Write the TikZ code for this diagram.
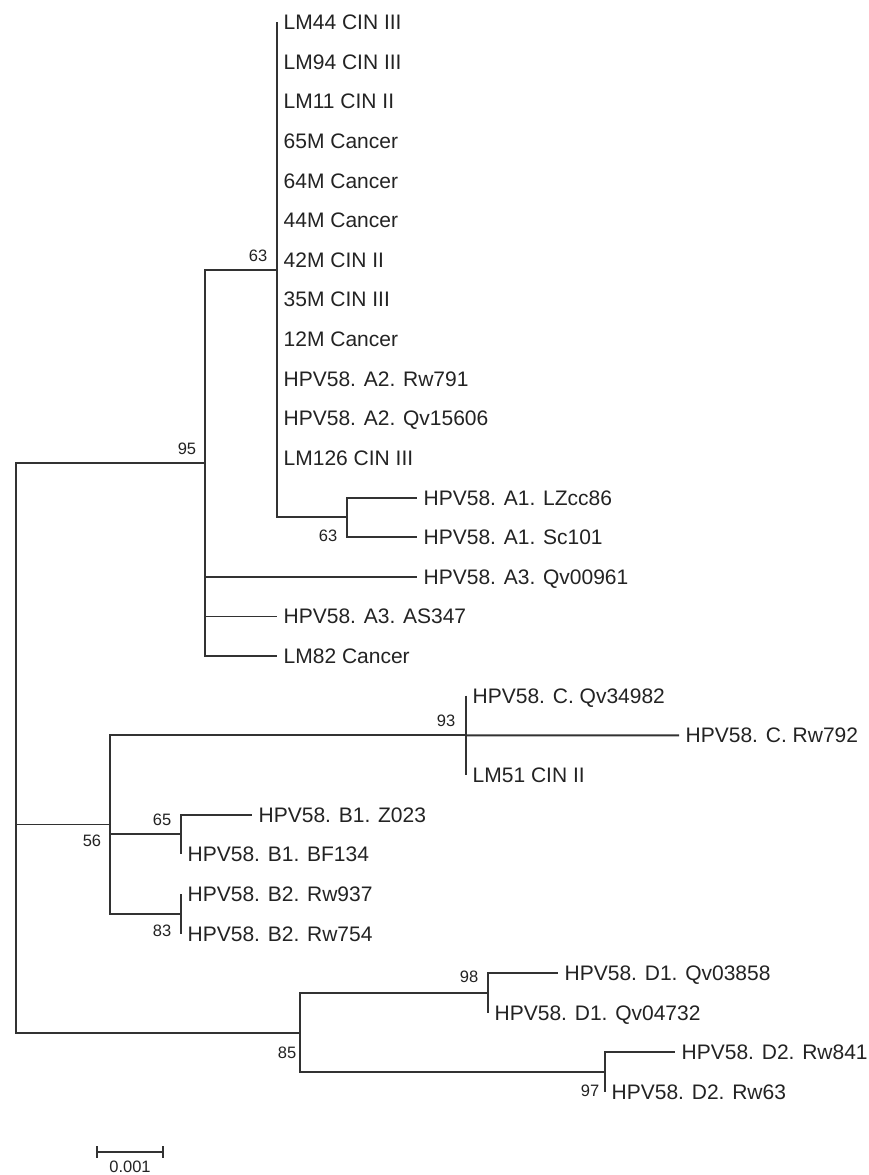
\documentclass[tikz,border=0pt]{standalone}
\usepackage{fontspec}
\setmainfont{Liberation Sans}
\usepackage{xcolor}
\usetikzlibrary{calc}
\definecolor{branchgray}{RGB}{50,50,50}
\definecolor{labelgray}{RGB}{35,35,35}

\tikzset{
  branch/.style={line width=1.9pt, draw=branchgray},
  leaf/.style={anchor=base west, inner sep=0pt, text=labelgray, font=\fontsize{21}{21}\selectfont},
  boot/.style={anchor=base, inner sep=0pt, text=labelgray, font=\fontsize{16.5}{16.5}\selectfont},
}

\begin{document}
\begin{tikzpicture}[x=1pt, y=-1pt]
  \useasboundingbox (0,0) rectangle (869,1175);
  \fill[white] (0,0) rectangle (869,1175);

  % Internal nodes
  \coordinate (root) at (16, 824.5);
  \coordinate (nA)   at (205, 462.9);
  \coordinate (nA63) at (277, 269.7);
  \coordinate (nA1)  at (347, 517.4);
  \coordinate (nBC)  at (110, 824.5);
  \coordinate (nC)   at (466, 735.3);
  \coordinate (nB1)  at (181, 834.4);
  \coordinate (nB2)  at (181, 913.7);
  \coordinate (nD)   at (300, 1032.6);
  \coordinate (nD1)  at (488, 993.0);
  \coordinate (nD2)  at (605, 1072.2);

  % Tips on the A-63 comb (zero length)
  \foreach \lab [count=\i from 0] in {LM44 CIN III, LM94 CIN III, LM11 CIN II,
      65M Cancer, 64M Cancer, 44M Cancer, 42M CIN II, 35M CIN III, 12M Cancer,
      HPV58. A2. Rw791, HPV58. A2. Qv15606, LM126 CIN III} {
    \coordinate (tA\i) at (277, {22+39.63*\i});
    \node[leaf] (ltA\i) at ($(tA\i)+(6.5,7.5)$) {\lab};
  }

  % Other tips
  \foreach \nm/\x/\k/\lab in {
      tLZ/417/12/HPV58. A1. LZcc86, tSc/417/13/HPV58. A1. Sc101,
      tQa/417/14/HPV58. A3. Qv00961, tAS/277/15/HPV58. A3. AS347,
      tLM82/277/16/LM82 Cancer,
      tCq/466/17/HPV58. C. Qv34982, tCr/679/18/HPV58. C. Rw792,
      tLM51/466/19/LM51 CIN II,
      tZ/252/20/HPV58. B1. Z023, tBF/181/21/HPV58. B1. BF134,
      tR937/181/22/HPV58. B2. Rw937, tR754/181/23/HPV58. B2. Rw754,
      tQ03/558/24/HPV58. D1. Qv03858, tQ04/488/25/HPV58. D1. Qv04732,
      tR841/675/26/HPV58. D2. Rw841, tR63/605/27/HPV58. D2. Rw63} {
    \coordinate (\nm) at (\x, {22+39.63*\k});
    \node[leaf] (l\nm) at ($(\nm)+(6.5,7.5)$) {\lab};
  }

  % Branches
  \draw[branch] (root) |- (nA);
  \draw[branch] (root) |- (nD);
  \draw[branch] (root) -- (nBC);

  \draw[branch] (nA) |- (nA63);
  \draw[branch] (nA) |- (tQa);
  \draw[branch] (nA) |- (tAS);
  \draw[branch] (nA) |- (tLM82);
  \draw[branch] (tA0) -- (nA63) |- (nA1);
  \draw[branch] (nA1) |- (tLZ);
  \draw[branch] (nA1) |- (tSc);

  \draw[branch] (nBC) |- (nC);
  \draw[branch] (nBC) |- (nB1);
  \draw[branch] (nBC) |- (nB2);
  \draw[branch] (tCq) -- (tLM51);
  \draw[branch] (nC) -- (tCr);
  \draw[branch] (nB1) |- (tZ);
  \draw[branch] (nB1) |- (tBF);
  \draw[branch] (nB2) |- (tR937);
  \draw[branch] (nB2) |- (tR754);

  \draw[branch] (nD) |- (nD1);
  \draw[branch] (nD) |- (nD2);
  \draw[branch] (nD1) |- (tQ03);
  \draw[branch] (nD1) |- (tQ04);
  \draw[branch] (nD2) |- (tR841);
  \draw[branch] (nD2) |- (tR63);

  % Bootstrap values
  \node[boot] (bA63) at (258, 261)  {63};
  \node[boot] (bA)   at (187, 454)  {95};
  \node[boot] (bA1)  at (328, 541)  {63};
  \node[boot] (bC)   at (446, 726)  {93};
  \node[boot] (bBC)  at (92, 846)   {56};
  \node[boot] (bB1)  at (162, 825)  {65};
  \node[boot] (bB2)  at (162, 936)  {83};
  \node[boot] (bD1)  at (469, 982)  {98};
  \node[boot] (bD)   at (287, 1058) {85};
  \node[boot] (bD2)  at (590, 1096) {97};

  % Scale bar
  \coordinate (sbl) at (97, 1152);
  \coordinate (sbr) at (163, 1152);
  \draw[branch] (sbl) -- (sbr);
  \draw[branch, line width=1.4pt] ($(sbl)+(0,-6)$) -- ($(sbl)+(0,6)$);
  \draw[branch, line width=1.4pt] ($(sbr)+(0,-6)$) -- ($(sbr)+(0,6)$);
  \node[boot] (sblab) at (130, 1172) {0.001};
\end{tikzpicture}
\end{document}
